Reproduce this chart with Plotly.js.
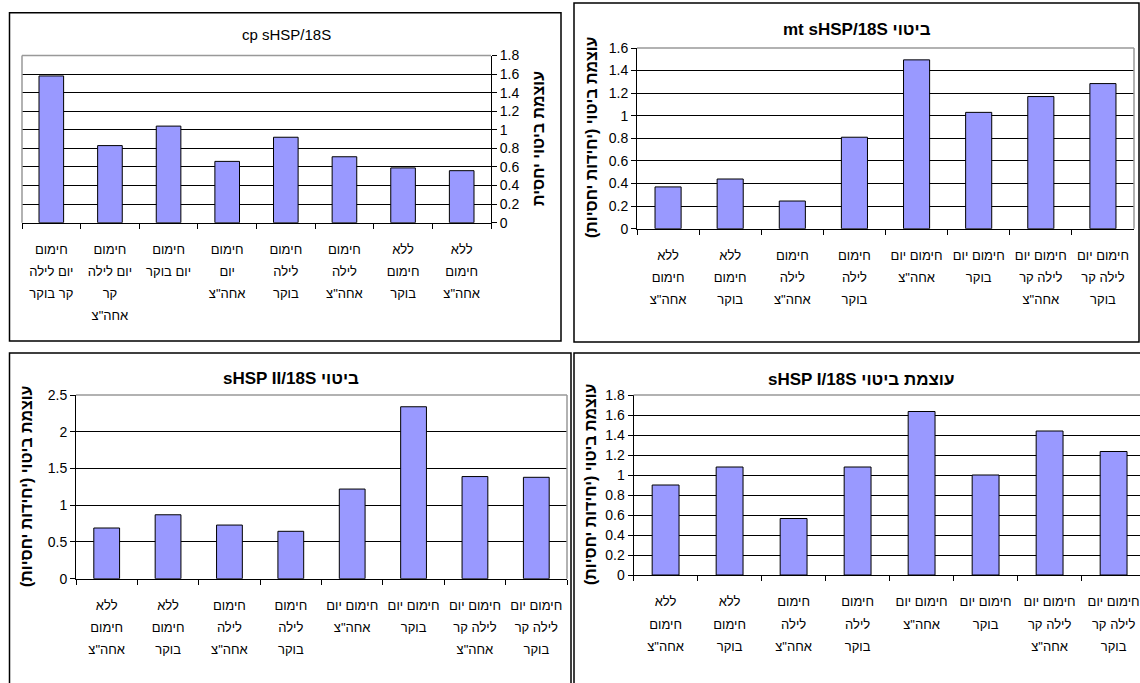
<!DOCTYPE html>
<html>
<head>
<meta charset="utf-8">
<script src="https://cdn.plot.ly/plotly-3.0.1.min.js"></script>
<style>
  html, body { margin: 0; padding: 0; background: #ffffff; overflow: hidden; }
  #chart { width: 1146px; height: 683px; }
</style>
</head>
<body>
<div id="chart"></div>
<script>
// Treatment conditions (shared category axis for all four panels)
const conditions = [
  'ללא חימום אחה"צ',
  'ללא חימום בוקר',
  'חימום לילה אחה"צ',
  'חימום לילה בוקר',
  'חימום יום אחה"צ',
  'חימום יום בוקר',
  'חימום יום לילה קר אחה"צ',
  'חימום יום לילה קר בוקר'
];

// Wrapped tick labels (wide panels and the narrower cp panel)
const labelsWide = [
  'ללא<br>חימום<br>אחה"צ',
  'ללא<br>חימום<br>בוקר',
  'חימום<br>לילה<br>אחה"צ',
  'חימום<br>לילה<br>בוקר',
  'חימום יום<br>אחה"צ',
  'חימום יום<br>בוקר',
  'חימום יום<br>לילה קר<br>אחה"צ',
  'חימום יום<br>לילה קר<br>בוקר'
];
const labelsNarrow = [
  'ללא<br>חימום<br>אחה"צ',
  'ללא<br>חימום<br>בוקר',
  'חימום<br>לילה<br>אחה"צ',
  'חימום<br>לילה<br>בוקר',
  'חימום<br>יום<br>אחה"צ',
  'חימום<br>יום בוקר',
  'חימום<br>יום לילה<br>קר<br>אחה"צ',
  'חימום<br>יום לילה<br>קר בוקר'
];

// Relative expression values, in the order of `conditions`
const cpValues    = [0.56, 0.59, 0.71, 0.92, 0.66, 1.04, 0.83, 1.58];
const mtValues    = [0.37, 0.44, 0.245, 0.81, 1.495, 1.03, 1.17, 1.285];
const hsp2Values  = [0.69, 0.87, 0.73, 0.645, 1.22, 2.34, 1.39, 1.38];
const hsp1Values  = [0.90, 1.08, 0.565, 1.08, 1.635, 1.00, 1.44, 1.235];

// Titles
const RLE = '\u202B', PDF = '\u202C';
const titleCp   = 'cp sHSP/18S';
const titleMt   = RLE + 'ביטוי mt sHSP/18S' + PDF;
const titleHsp2 = RLE + 'ביטוי sHSP II/18S' + PDF;
const titleHsp1 = RLE + 'עוצמת ביטוי sHSP I/18S' + PDF;
const yTitleShort = RLE + 'עוצמת ביטוי יחסית' + PDF;
const yTitleLong  = RLE + 'עוצמת ביטוי (יחידות יחסיות)' + PDF;

// Page geometry helpers (pixel -> paper fraction)
const W = 1146, H = 683;
const fx = px => px / W;
const fy = py => 1 - py / H;

const FONT = 'Liberation Sans, Arial, sans-serif';
const BAR_FILL = '#9999ff';
const LABEL_SIZE = 13;     // glyph size of category labels
const LABEL_LINE = 17;     // font size that sets the line pitch (1.3em)

// Category labels: glyphs at LABEL_SIZE, line pitch from LABEL_LINE
function styleLabels(labels) {
  return labels.map(t => t.split('<br>')
    .map(line => '<span style="font-size:' + LABEL_SIZE + 'px">' + line + '</span>')
    .join('<br>'));
}

function barTrace(values, axisId) {
  return {
    type: 'bar',
    x: conditions,
    y: values,
    xaxis: 'x' + axisId,
    yaxis: 'y' + axisId,
    marker: { color: BAR_FILL, line: { color: '#000000', width: 1 } },
    hoverinfo: 'x+y',
    showlegend: false
  };
}

function xAxis(domainPx, anchor, labels, reversed) {
  return {
    domain: [fx(domainPx[0]), fx(domainPx[1])],
    anchor: anchor,
    type: 'category',
    categoryorder: 'array',
    categoryarray: conditions,
    tickmode: 'array',
    tickvals: conditions,
    ticktext: styleLabels(labels),
    tickson: 'boundaries',
    ticks: 'outside',
    ticklen: 5,
    tickwidth: 1,
    tickcolor: '#000000',
    ticklabelstandoff: 10,
    showline: true,
    linecolor: '#000000',
    linewidth: 1,
    showgrid: false,
    zeroline: false,
    autorange: reversed ? 'reversed' : true,
    tickangle: 0,
    tickfont: { family: FONT, size: LABEL_LINE, color: '#000000' },
    fixedrange: true
  };
}

function yAxis(domainPx, anchor, range, dtick, side) {
  return {
    domain: [fy(domainPx[1]), fy(domainPx[0])],
    anchor: anchor,
    side: side,
    range: range,
    dtick: dtick,
    tick0: 0,
    ticks: 'outside',
    ticklen: 5,
    tickwidth: 1,
    tickcolor: '#000000',
    showline: true,
    linecolor: '#000000',
    linewidth: 1,
    showgrid: true,
    gridcolor: '#000000',
    gridwidth: 1,
    zeroline: false,
    tickfont: { family: FONT, size: 14, color: '#000000' },
    fixedrange: true
  };
}

// Plot-area pixel boxes: [left, right], [top, bottom]
const boxCp   = { x: [22, 491],   y: [55.5, 222.7] };
const boxMt   = { x: [637, 1134], y: [48, 228.7] };
const boxHsp2 = { x: [76, 567],   y: [395, 578.7] };
const boxHsp1 = { x: [633.6, 1145.6], y: [395, 575] };

const data = [
  barTrace(cpValues, ''),
  barTrace(mtValues, '2'),
  barTrace(hsp2Values, '3'),
  barTrace(hsp1Values, '4')
];

function panelRect(x0, y0, x1, y1) {
  return {
    type: 'rect', xref: 'paper', yref: 'paper',
    x0: fx(x0), x1: fx(x1), y0: fy(y1), y1: fy(y0),
    line: { color: '#000000', width: 1.5 }, fillcolor: 'rgba(0,0,0,0)', layer: 'above'
  };
}
function grayLine(x0, y0, x1, y1) {
  return {
    type: 'line', xref: 'paper', yref: 'paper',
    x0: fx(x0), x1: fx(x1), y0: fy(y0), y1: fy(y1),
    line: { color: '#999999', width: 1.5 }, layer: 'above'
  };
}

const shapes = [
  // chart frames
  panelRect(9.5, 12.7, 561, 341),
  panelRect(574, 3, 1139, 342),
  panelRect(9.5, 353, 571, 700),
  panelRect(574, 353, 1160, 700),
  // plot-area borders (top edge and far side)
  grayLine(boxCp.x[0], boxCp.y[0], boxCp.x[1], boxCp.y[0]),
  grayLine(boxCp.x[0], boxCp.y[0], boxCp.x[0], boxCp.y[1]),
  grayLine(boxMt.x[0], boxMt.y[0], boxMt.x[1], boxMt.y[0]),
  grayLine(boxMt.x[1], boxMt.y[0], boxMt.x[1], boxMt.y[1]),
  grayLine(boxHsp2.x[0], boxHsp2.y[0], boxHsp2.x[1], boxHsp2.y[0]),
  grayLine(boxHsp2.x[1], boxHsp2.y[0], boxHsp2.x[1], boxHsp2.y[1]),
  grayLine(boxHsp1.x[0], boxHsp1.y[0], boxHsp1.x[1], boxHsp1.y[0])
];

function label(text, px, py, size, bold, angle) {
  return {
    text: text, xref: 'paper', yref: 'paper',
    x: fx(px), y: fy(py), xanchor: 'center', yanchor: 'middle',
    showarrow: false, textangle: angle || 0,
    font: { family: FONT, size: size, color: '#000000', weight: bold ? 700 : 400 }
  };
}

const annotations = [
  label(titleCp, 286, 35, 15, false),
  label(titleMt, 857, 30, 17, true),
  label(titleHsp2, 291, 378, 17, true),
  label(titleHsp1, 861, 379, 17, true),
  label(yTitleShort, 539, 139, 16, true, -90),
  label(yTitleLong, 591, 137, 16, true, -90),
  label(yTitleLong, 26, 486, 16, true, -90),
  label(yTitleLong, 590, 484, 16, true, -90)
];

const layout = {
  width: W, height: H, autosize: false,
  margin: { l: 0, r: 0, t: 0, b: 0, pad: 0 },
  paper_bgcolor: '#ffffff', plot_bgcolor: '#ffffff',
  bargap: 0.58,
  font: { family: FONT, color: '#000000' },
  xaxis:  xAxis(boxCp.x, 'y', labelsNarrow, true),
  yaxis:  yAxis(boxCp.y, 'x', [0, 1.8], 0.2, 'right'),
  xaxis2: xAxis(boxMt.x, 'y2', labelsWide, false),
  yaxis2: yAxis(boxMt.y, 'x2', [0, 1.6], 0.2, 'left'),
  xaxis3: xAxis(boxHsp2.x, 'y3', labelsWide, false),
  yaxis3: yAxis(boxHsp2.y, 'x3', [0, 2.5], 0.5, 'left'),
  xaxis4: xAxis(boxHsp1.x, 'y4', labelsWide, false),
  yaxis4: yAxis(boxHsp1.y, 'x4', [0, 1.8], 0.2, 'left'),
  shapes: shapes,
  annotations: annotations
};

Plotly.newPlot('chart', data, layout, { displayModeBar: false, staticPlot: true });
</script>
</body>
</html>
